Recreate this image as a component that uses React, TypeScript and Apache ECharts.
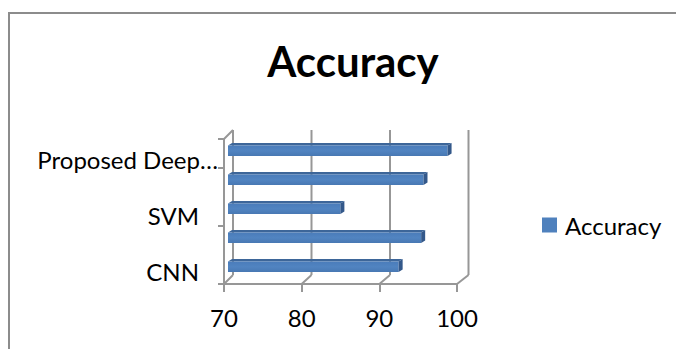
import React, { useEffect, useRef } from "react";
import * as echarts from "echarts";

const categories = ["CNN", "RNN", "SVM", "KNN", "Proposed Deep Learning"];
const accuracy = [92.1, 95.0, 84.6, 95.3, 98.4];
const xTicks = [70, 80, 90, 100];
const seriesName = "Accuracy";
const titleText = "Accuracy";

const FONT = "Lato, 'Noto Sans', sans-serif";
const LABEL_SIZE = 24;
const GRID_COLOR = "#979797";

export default function App() {
  const ref = useRef<HTMLDivElement>(null);
  useEffect(() => {
    if (!ref.current) return;
    const chart = echarts.init(ref.current, undefined, { renderer: "svg" });
    const xMin = xTicks[0];
    const xMax = xTicks[xTicks.length - 1];
    const labelFont = `${LABEL_SIZE}px Lato`;
    const rich: any = {};
    categories.forEach((_, i) => {
      const n = categories.length - 1;
      const shiftDown = 2 + (i / n) * 4; // labels sit slightly lower toward the top (3D perspective)
      const isLong = (echarts.format as any).truncateText(categories[i], 186, labelFont, "…") !== categories[i];
      rich["c" + i] = {
        fontFamily: FONT,
        fontSize: LABEL_SIZE,
        color: "#000",
        padding: [shiftDown * 2, isLong ? 0 : 19, 0, 0],
      };
    });
    const option: any = {
      animation: false,
      backgroundColor: "#ffffff",
      title: {
        text: titleText,
        left: 348,
        textAlign: "center",
        top: 35,
        textStyle: { fontFamily: FONT, fontWeight: "bold", fontSize: 42, color: "#000" },
      },
      legend: {
        data: [seriesName],
        left: 542,
        top: 213,
        padding: 0,
        icon: "rect",
        itemWidth: 15,
        itemHeight: 15,
        textStyle: { fontFamily: FONT, fontSize: LABEL_SIZE, color: "#000", padding: [0, 0, 0, 3] },
      },
      graphic: [
        {
          type: "rect",
          shape: { x: 9, y: 13, width: 700, height: 400 },
          style: { fill: "none", stroke: "#8c8c8c", lineWidth: 2 },
          silent: true,
          z: -10,
        },
      ],
      grid: { left: 224, top: 139, width: 233, height: 145 },
      xAxis: {
        type: "value",
        min: xMin,
        max: xMax,
        interval: 10,
        axisLine: { show: true, lineStyle: { color: GRID_COLOR, width: 2 } },
        axisTick: { show: true, length: 8, lineStyle: { color: GRID_COLOR, width: 2 } },
        axisLabel: { fontFamily: FONT, fontSize: LABEL_SIZE, color: "#000", margin: 21 },
        splitLine: { show: false },
      },
      yAxis: {
        type: "category",
        data: categories,
        axisLine: { show: true, lineStyle: { color: GRID_COLOR, width: 2 } },
        axisTick: { show: true, length: 6, lineStyle: { color: GRID_COLOR, width: 2 } },
        axisLabel: {
          interval: 1,
          margin: 6,
          rich,
          formatter: (value: string, index: number) => {
            const t = (echarts.format as any).truncateText(value, 186, labelFont, "…");
            return `{c${index}|${t}}`;
          },
        },
        splitLine: { show: false },
      },
      series: [
        {
          type: "custom",
          name: "frame",
          silent: true,
          z: 1,
          clip: false,
          encode: { x: 0, y: 1 },
          data: xTicks.map((v) => [v, 0]),
          renderItem: (params: any, api: any) => {
            const v = api.value(0);
            const px = api.coord([v, 0])[0];
            const cs = params.coordSys;
            const bottom = cs.y + cs.height;
            const top = cs.y;
            const dx = 9 + ((v - xMin) / (xMax - xMin)) * 2.5;
            const dy = 9;
            const style = { stroke: GRID_COLOR, lineWidth: 2, fill: "none" };
            const children: any[] = [
              { type: "line", shape: { x1: px, y1: bottom, x2: px + dx, y2: bottom - dy }, style },
              { type: "line", shape: { x1: px + dx, y1: bottom - dy, x2: px + dx, y2: top - dy }, style },
            ];
            if (v === xMin) {
              children.push({ type: "line", shape: { x1: px, y1: top, x2: px + dx, y2: top - dy }, style });
            }
            return { type: "group", children };
          },
        },
        {
          type: "custom",
          name: seriesName,
          z: 3,
          clip: false,
          itemStyle: { color: "#4F81BD" },
          encode: { x: 0, y: 1 },
          data: accuracy.map((v, i) => [v, i]),
          renderItem: (params: any, api: any) => {
            const v = api.value(0);
            const idx = api.value(1);
            const p0 = api.coord([xMin, idx]);
            const p1 = api.coord([v, idx]);
            const c = p0[1];
            const x0 = p0[0] + 4;
            const x1 = p1[0] + 3;
            const dx = 4;
            const dy = 2.5;
            const yt = c - 8;
            const yb = c + 2.5;
            return {
              type: "group",
              children: [
                {
                  type: "polygon",
                  shape: { points: [[x0, yt], [x1, yt], [x1 + dx, yt - dy], [x0 + dx, yt - dy]] },
                  style: { fill: "#3d6699" },
                },
                {
                  type: "rect",
                  shape: { x: x0, y: yt, width: x1 - x0, height: yb - yt },
                  style: {
                    fill: new echarts.graphic.LinearGradient(0, 0, 0, 1, [
                      { offset: 0, color: "#4a7cba" },
                      { offset: 0.5, color: "#5184c1" },
                      { offset: 1, color: "#4878b3" },
                    ]),
                  },
                },
                {
                  type: "polygon",
                  shape: { points: [[x1, yt], [x1 + dx, yt - dy], [x1 + dx, yb - dy], [x1, yb]] },
                  style: { fill: "#33588a" },
                },
              ],
            };
          },
        },
      ],
    };
    chart.setOption(option);
    return () => chart.dispose();
  }, []);
  return (
    <div
      ref={ref}
      style={{ position: "fixed", left: 0, top: 0, width: 676, height: 349, background: "#fff" }}
    />
  );
}
